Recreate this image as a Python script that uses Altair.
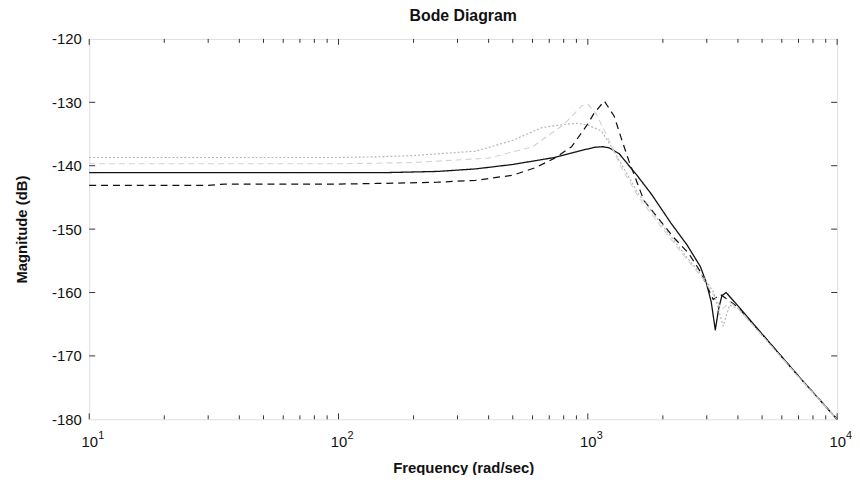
import altair as alt
import pandas as pd

# ---- data ----
solid_f = [10, 50, 150, 250, 355, 500, 736, 900, 1060, 1150, 1220, 1336, 1463, 1574,
           1800, 2150, 2500, 2826, 2985, 3126, 3245, 3350, 3450, 3586, 4000, 5010, 7000, 10000]
solid_db = [-141.1, -141.1, -141.1, -140.9, -140.5, -139.8, -138.7, -137.8, -137.1, -137.0,
            -137.2, -138.1, -140.0, -141.5, -144.5, -149.0, -152.5, -155.9, -158.4, -161.5,
            -165.9, -162.5, -160.5, -160.0, -162.1, -166.6, -173.2, -180.0]

dashed_f = [10, 30, 35, 100, 142, 250, 355, 500, 617, 736, 861, 1000, 1060, 1164, 1276,
            1360, 1460, 1679, 2207, 2535, 2826, 3184, 3396, 3600, 4000, 5010, 7000, 10000]
dashed_db = [-143.1, -143.1, -142.9, -142.9, -142.8, -142.6, -142.3, -141.5, -140.3, -138.8,
             -137.0, -133.4, -131.7, -129.8, -132.2, -135.6, -139.2, -145.5, -151.3, -153.8,
             -156.7, -161.1, -160.3, -161.0, -162.3, -166.6, -173.2, -180.0]

gdot_f = [10, 100, 142, 200, 355, 500, 653, 800, 910, 1000, 1133, 1240, 1360, 1600, 2000,
          2500, 2900, 3200, 3490, 3700, 4000, 5010, 7000, 10000]
gdot_db = [-138.7, -138.7, -138.6, -138.4, -137.7, -136.0, -134.0, -133.5, -133.3, -133.6,
           -134.5, -136.9, -139.7, -144.5, -149.5, -154.5, -157.5, -160.0, -165.3, -162.0,
           -162.5, -166.8, -173.3, -180.0]

gdash_f = [10, 100, 200, 400, 600, 800, 950, 1000, 1080, 1200, 1350, 1600, 2000, 2500,
           2900, 3200, 3450, 3700, 4000, 5010, 7000, 10000]
gdash_db = [-139.7, -139.7, -139.5, -138.8, -137.0, -133.5, -130.5, -130.3, -131.8, -135.5,
            -140.0, -145.0, -150.0, -154.8, -157.8, -160.5, -162.7, -161.5, -162.5, -166.8,
            -173.3, -180.0]

series_names = ["gray dashed", "gray dotted", "black dashed", "black solid"]
series_colors = ["#d2d2d2", "#b4b4b4", "#111111", "#111111"]
series_dashes = [[6, 4], [2, 2], [7, 5], [1, 0]]
series_widths = [1.1, 1.3, 1.6, 1.9]

x_major = [10, 100, 1000, 10000]
x_exponents = ["1", "2", "3", "4"]
x_minor = [20, 30, 40, 50, 60, 70, 80, 90,
           200, 300, 400, 500, 600, 700, 800, 900,
           2000, 3000, 4000, 5000, 6000, 7000, 8000, 9000]
y_ticks = [-180, -170, -160, -150, -140, -130, -120]

# ---- build table ----
rows = []
for name, fs, ds in [("black solid", solid_f, solid_db), ("black dashed", dashed_f, dashed_db),
                     ("gray dotted", gdot_f, gdot_db), ("gray dashed", gdash_f, gdash_db)]:
    for f, d in zip(fs, ds):
        rows.append({"freq": f, "db": d, "series": name})
df = pd.DataFrame(rows)

W, H = 755, 384
FONT = "Liberation Sans"

xscale = alt.Scale(type="log", domain=[10, 10000], nice=False)
yscale = alt.Scale(domain=[-180, -120], nice=False, zero=False)

lines = alt.Chart(df).mark_line(strokeJoin="round").encode(
    x=alt.X("freq:Q", scale=xscale,
            axis=alt.Axis(values=x_major, labelExpr="'10'", tickSize=0, domain=False,
                          grid=False, labelPadding=15, labelFontSize=15, labelFont=FONT,
                          labelFlush=False, labelOverlap=False,
                          labelColor="#111", title="Frequency  (rad/sec)", titleFont=FONT,
                          titleFontSize=15, titleFontWeight="bold", titlePadding=12,
                          titleColor="#111")),
    y=alt.Y("db:Q", scale=yscale,
            axis=alt.Axis(values=y_ticks, labelExpr="toString(datum.value)", tickSize=0,
                          domain=False, grid=False, labelFlush=False, labelOverlap=False,
                          labelPadding=8, labelFontSize=15, labelFont=FONT, labelColor="#111",
                          title="Magnitude (dB)", titleFont=FONT, titleFontSize=15,
                          titleFontWeight="bold", titlePadding=22, titleColor="#111")),
    color=alt.Color("series:N", scale=alt.Scale(domain=series_names, range=series_colors), legend=None),
    strokeDash=alt.StrokeDash("series:N", scale=alt.Scale(domain=series_names, range=series_dashes), legend=None),
    strokeWidth=alt.StrokeWidth("series:N", scale=alt.Scale(domain=series_names, range=series_widths), legend=None),
    order=alt.Order("freq:Q"),
)

xt_major = pd.DataFrame({"freq": x_major})
xt_minor = pd.DataFrame({"freq": x_minor})
yt = pd.DataFrame({"db": y_ticks[1:-1]})
exp_df = pd.DataFrame({"freq": x_major, "e": x_exponents})

tick_color = "#333"
def xticks(data, length):
    bot = alt.Chart(data).mark_rule(color=tick_color, strokeWidth=1).encode(
        x=alt.X("freq:Q", scale=xscale), y=alt.value(H), y2=alt.value(H - length))
    top = alt.Chart(data).mark_rule(color=tick_color, strokeWidth=1).encode(
        x=alt.X("freq:Q", scale=xscale), y=alt.value(0), y2=alt.value(length))
    return [bot, top]

ytl = alt.Chart(yt).mark_rule(color=tick_color).encode(
    y=alt.Y("db:Q", scale=yscale), x=alt.value(0), x2=alt.value(6))
ytr = alt.Chart(yt).mark_rule(color=tick_color).encode(
    y=alt.Y("db:Q", scale=yscale), x=alt.value(W), x2=alt.value(W - 6))

exps = alt.Chart(exp_df).mark_text(align="left", baseline="top", dx=9, fontSize=11,
                                   font=FONT, color="#111").encode(
    x=alt.X("freq:Q", scale=xscale), y=alt.value(H + 11), text="e:N")

chart = alt.layer(
    *xticks(xt_minor, 4), *xticks(xt_major, 6), ytl, ytr, lines, exps
).properties(
    width=W, height=H,
    title=alt.TitleParams("Bode Diagram", font=FONT, fontSize=16, fontWeight="bold",
                          anchor="middle", offset=8, color="#111"),
    autosize=alt.AutoSizeParams(type="none"),
    padding={"left": 82, "top": 29, "right": 15, "bottom": 54},
).configure_view(stroke="#444", strokeWidth=1).configure(background="white")

chart.save("out.html", embed_options={"renderer": "svg", "actions": False})
